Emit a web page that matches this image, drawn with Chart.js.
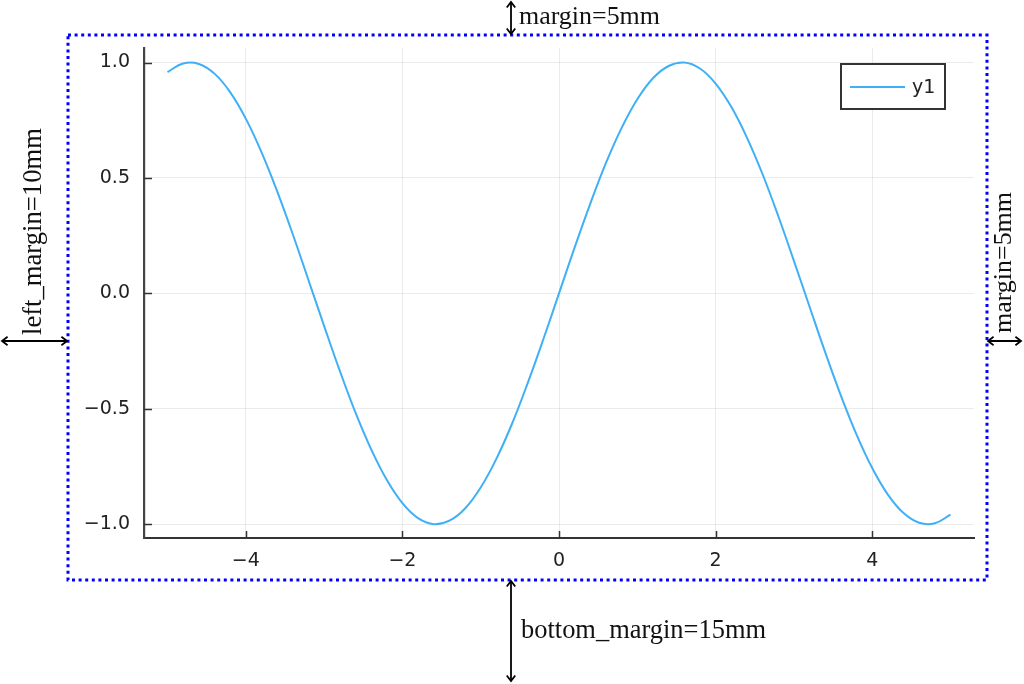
<!DOCTYPE html>
<html>
<head>
<meta charset="utf-8">
<script src="https://cdn.jsdelivr.net/npm/chart.js@4"></script>
<style>
  html, body { margin: 0; padding: 0; background: #fff; }
  #wrap { width: 1024px; height: 684px; }
</style>
</head>
<body>
<div id="wrap"><canvas id="myChart" width="1024" height="684"></canvas></div>
<script>
// values
const xs = [-5, -4.8, -4.6, -4.4, -4.2, -4, -3.8, -3.6, -3.4, -3.2, -3, -2.8, -2.6, -2.4, -2.2, -2, -1.8, -1.6, -1.4, -1.2, -1, -0.8, -0.6, -0.4, -0.2,
            0, 0.2, 0.4, 0.6, 0.8, 1, 1.2, 1.4, 1.6, 1.8, 2, 2.2, 2.4, 2.6, 2.8, 3, 3.2, 3.4, 3.6, 3.8, 4, 4.2, 4.4, 4.6, 4.8, 5];
const y1 = [0.959, 0.996, 0.994, 0.952, 0.872, 0.757, 0.612, 0.443, 0.256, 0.058, -0.141, -0.335, -0.516, -0.675, -0.808, -0.909, -0.974, -1.0, -0.985, -0.932, -0.841, -0.717, -0.565, -0.389, -0.199,
            0, 0.199, 0.389, 0.565, 0.717, 0.841, 0.932, 0.985, 1.0, 0.974, 0.909, 0.808, 0.675, 0.516, 0.335, 0.141, -0.058, -0.256, -0.443, -0.612, -0.757, -0.872, -0.952, -0.994, -0.996, -0.959];
const xTicks = [-4, -2, 0, 2, 4];
const yTicks = [-1.0, -0.5, 0.0, 0.5, 1.0];
const seriesName = 'y1';

const lineColor = '#3fb0f7';
const tickFont = '19px "DejaVu Sans"';
const noteFont = '"Liberation Serif"';

function fmtX(v) { return (v < 0 ? '\u2212' : '') + Math.abs(v); }
function fmtY(v) { return (v < 0 ? '\u2212' : '') + Math.abs(v).toFixed(1); }

function fitText(ctx, text, width) {
  ctx.font = '20px ' + noteFont;
  const size = 20 * width / ctx.measureText(text).width;
  ctx.font = size.toFixed(2) + 'px ' + noteFont;
}

function arrowHead(ctx, x, y, dir) {
  const a = 0.65, l = 7;
  ctx.beginPath();
  ctx.moveTo(x - l * Math.cos(dir - a), y - l * Math.sin(dir - a));
  ctx.lineTo(x, y);
  ctx.lineTo(x - l * Math.cos(dir + a), y - l * Math.sin(dir + a));
  ctx.stroke();
}

function dblArrow(ctx, x1, y1_, x2, y2) {
  ctx.beginPath();
  ctx.moveTo(x1, y1_);
  ctx.lineTo(x2, y2);
  ctx.stroke();
  const ang = Math.atan2(y2 - y1_, x2 - x1);
  arrowHead(ctx, x2, y2, ang);
  arrowHead(ctx, x1, y1_, ang + Math.PI);
}

const decor = {
  id: 'decor',
  afterDraw(chart) {
    const ctx = chart.ctx;
    const xs_ = chart.scales.x, ys_ = chart.scales.y;
    const area = chart.chartArea;
    ctx.save();

    // inward tick marks
    ctx.strokeStyle = '#333';
    ctx.lineWidth = 1.5;
    xTicks.forEach(v => {
      const px = Math.round(xs_.getPixelForValue(v)) + 0.5;
      ctx.beginPath(); ctx.moveTo(px, area.bottom); ctx.lineTo(px, area.bottom - 7); ctx.stroke();
    });
    yTicks.forEach(v => {
      const py = Math.round(ys_.getPixelForValue(v)) + 0.5;
      ctx.beginPath(); ctx.moveTo(area.left, py); ctx.lineTo(area.left + 8, py); ctx.stroke();
    });

    // legend box
    ctx.fillStyle = '#fff';
    ctx.fillRect(841, 64, 104, 45);
    ctx.strokeStyle = '#333';
    ctx.lineWidth = 2;
    ctx.strokeRect(841, 64, 104, 45);
    ctx.strokeStyle = lineColor;
    ctx.lineWidth = 2;
    ctx.beginPath(); ctx.moveTo(850, 87); ctx.lineTo(905, 87); ctx.stroke();
    ctx.fillStyle = '#222';
    ctx.font = tickFont;
    ctx.textBaseline = 'middle';
    ctx.textAlign = 'left';
    ctx.fillText(seriesName, 912, 88);

    // dotted margin frame
    ctx.strokeStyle = '#0000ff';
    ctx.lineWidth = 3;
    ctx.setLineDash([3, 3.6]);
    ctx.strokeRect(68, 35, 919, 545);
    ctx.setLineDash([]);

    // margin arrows and labels
    ctx.strokeStyle = '#000';
    ctx.lineWidth = 1.8;
    ctx.fillStyle = '#111';
    ctx.textBaseline = 'alphabetic';
    dblArrow(ctx, 511, 2, 511, 34);
    dblArrow(ctx, 511, 581, 511, 681);
    dblArrow(ctx, 2, 341, 67, 341);
    dblArrow(ctx, 988, 341, 1021, 341);

    fitText(ctx, 'margin=5mm', 141);
    ctx.fillText('margin=5mm', 519, 24);
    fitText(ctx, 'bottom_margin=15mm', 245);
    ctx.fillText('bottom_margin=15mm', 521, 638);

    ctx.save();
    ctx.translate(41, 335);
    ctx.rotate(-Math.PI / 2);
    fitText(ctx, 'left_margin=10mm', 207);
    ctx.fillText('left_margin=10mm', 0, 0);
    ctx.restore();

    ctx.save();
    ctx.translate(1011, 333);
    ctx.rotate(-Math.PI / 2);
    fitText(ctx, 'margin=5mm', 141);
    ctx.fillText('margin=5mm', 0, 0);
    ctx.restore();

    ctx.restore();
  }
};

const ctx = document.getElementById('myChart').getContext('2d');
const myChart = new Chart(ctx, {
  type: 'line',
  data: {
    datasets: [{
      label: seriesName,
      data: xs.map((x, i) => ({ x: x, y: y1[i] })),
      borderColor: lineColor,
      borderWidth: 2,
      pointRadius: 0,
      fill: false,
      tension: 0.4
    }]
  },
  options: {
    responsive: false,
    animation: false,
    layout: { padding: { top: 48, right: 50, left: 0, bottom: 0 } },
    plugins: { legend: { display: false }, tooltip: { enabled: false } },
    scales: {
      x: {
        type: 'linear',
        min: -5.3,
        max: 5.3,
        afterBuildTicks: s => { s.ticks = xTicks.map(v => ({ value: v })); },
        afterFit: s => { s.height = 146; },
        grid: { color: 'rgba(0,0,0,0.08)', lineWidth: 1, drawTicks: false },
        border: { color: '#333', width: 2 },
        ticks: { padding: 12, color: '#222', font: { family: 'DejaVu Sans', size: 19 }, callback: v => fmtX(v), maxRotation: 0 }
      },
      y: {
        type: 'linear',
        min: -1.06,
        max: 1.063,
        afterBuildTicks: s => { s.ticks = yTicks.map(v => ({ value: v })); },
        afterFit: s => { s.width = 144; },
        grid: { color: 'rgba(0,0,0,0.08)', lineWidth: 1, drawTicks: false },
        border: { color: '#444', width: 2.2 },
        ticks: { padding: 14, color: '#222', font: { family: 'DejaVu Sans', size: 19 }, callback: v => fmtY(v) }
      }
    }
  },
  plugins: [decor]
});
</script>
</body>
</html>
